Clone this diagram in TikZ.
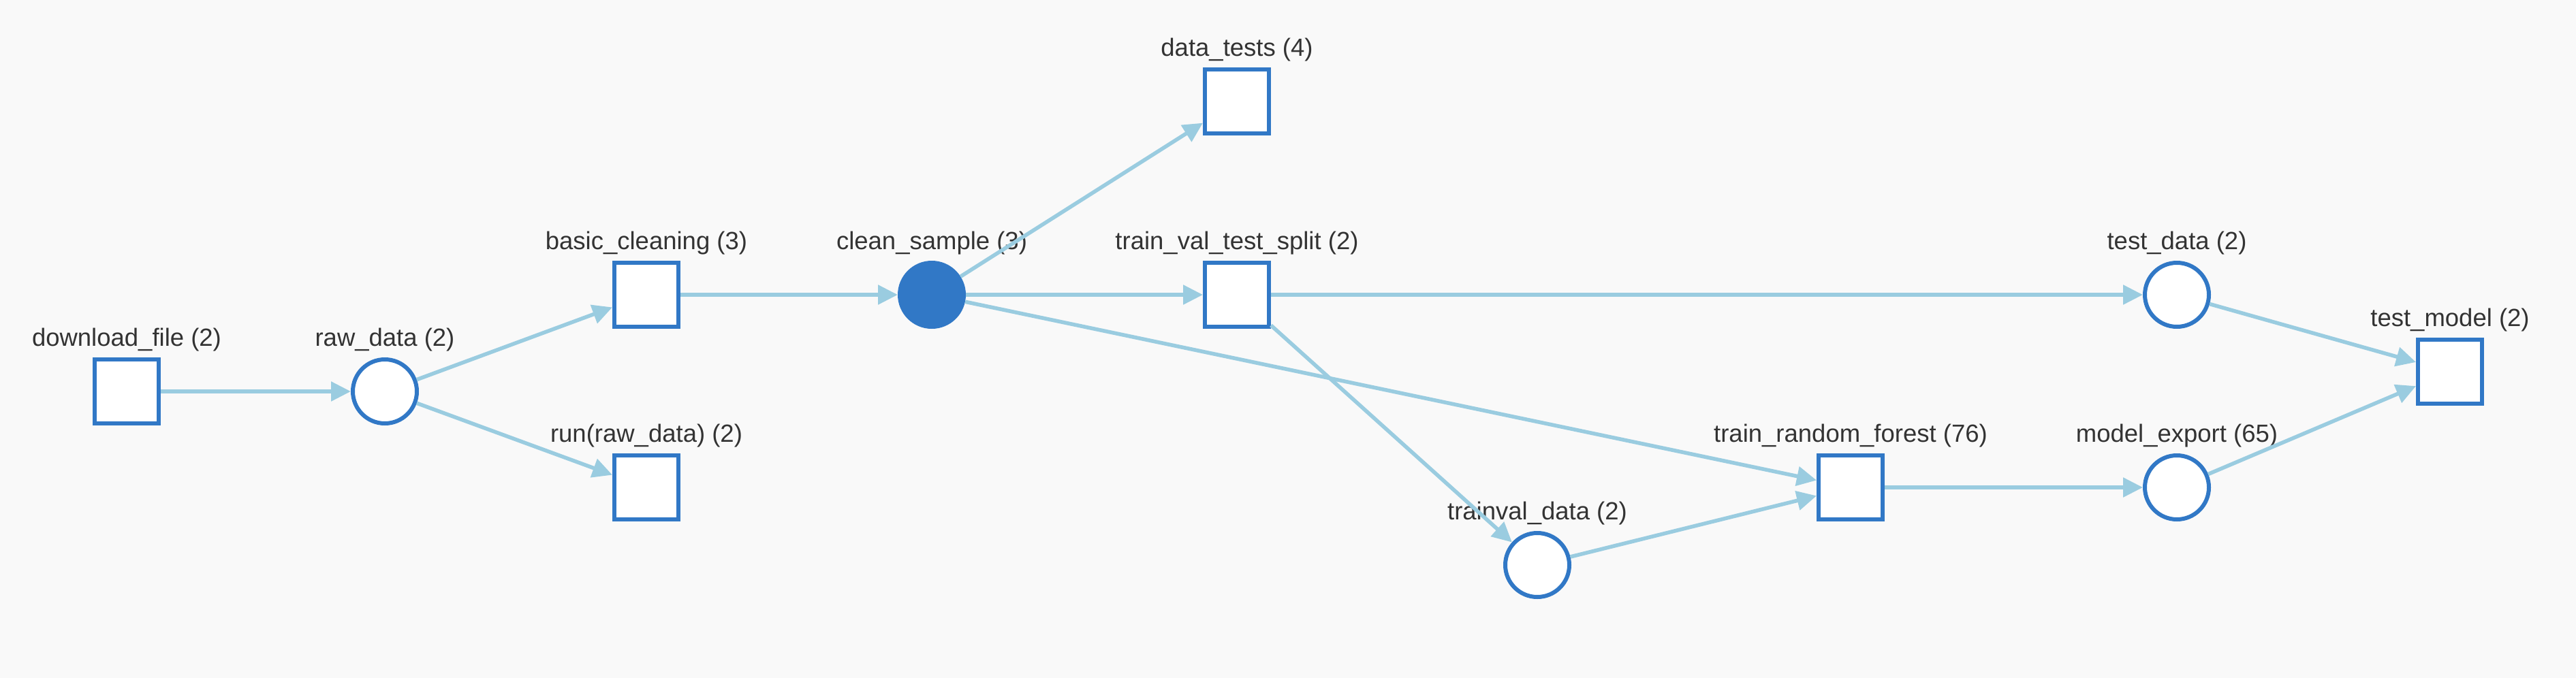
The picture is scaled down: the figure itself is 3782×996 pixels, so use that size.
\documentclass[tikz,border=0pt]{standalone}
\usepackage{fontspec}
\setmainfont{Liberation Sans}
\usetikzlibrary{arrows.meta}
\definecolor{bg}{HTML}{F9F9F9}
\definecolor{nodeblue}{HTML}{3178C6}
\definecolor{edgeblue}{HTML}{9ACCE0}
\definecolor{txt}{HTML}{333333}
\begin{document}
\begin{tikzpicture}[x=0.5pt,y=-0.5pt,
 task/.style={draw=nodeblue, fill=white, line width=3pt, minimum size=47pt, inner sep=0pt, rectangle},
 dataset/.style={draw=nodeblue, fill=white, line width=3pt, minimum size=47pt, inner sep=0pt, circle},
 filleddata/.style={dataset, fill=nodeblue},
 lbl/.style={anchor=base, text=txt, font=\fontsize{18.25pt}{22pt}\selectfont, inner sep=0pt},
 edge/.style={draw=edgeblue, line width=2.8pt, -{Triangle[length=14.5pt,width=14pt]}}]
\fill[bg] (0,0) rectangle (3782,996);
\useasboundingbox (0,0) rectangle (3782,996);
% nodes
\node[task] (df) at (186,575) {};
\node[dataset] (rd) at (565,575) {};
\node[task] (bc) at (949,433) {};
\node[task] (run) at (949,716) {};
\node[filleddata] (cs) at (1368,433) {};
\node[task] (dt) at (1816,149) {};
\node[task] (tvts) at (1816,433) {};
\node[dataset] (tvd) at (2257,830) {};
\node[task] (trf) at (2717,716) {};
\node[dataset] (td) at (3196,433) {};
\node[dataset] (me) at (3196,716) {};
\node[task] (tm) at (3597,546) {};
% labels
\node[lbl] (ldf) at ([yshift=8.5pt]df.north) {download\_file (2)};
\node[lbl] (lrd) at ([yshift=8.5pt]rd.north) {raw\_data (2)};
\node[lbl] (lbc) at ([yshift=8.5pt]bc.north) {basic\_cleaning (3)};
\node[lbl] (lrun) at ([yshift=8.5pt]run.north) {run(raw\_data) (2)};
\node[lbl] (lcs) at ([yshift=8.5pt]cs.north) {clean\_sample (3)};
\node[lbl] (ldt) at ([yshift=8.5pt]dt.north) {data\_tests (4)};
\node[lbl] (ltvts) at ([yshift=8.5pt]tvts.north) {train\_val\_test\_split (2)};
\node[lbl] (ltvd) at ([yshift=8.5pt]tvd.north) {trainval\_data (2)};
\node[lbl] (ltrf) at ([yshift=8.5pt]trf.north) {train\_random\_forest (76)};
\node[lbl] (ltd) at ([yshift=8.5pt]td.north) {test\_data (2)};
\node[lbl] (lme) at ([yshift=8.5pt]me.north) {model\_export (65)};
\node[lbl] (ltm) at ([yshift=8.5pt]tm.north) {test\_model (2)};
% edges
\draw[edge] (df) -- (rd);
\draw[edge] (rd) -- (bc);
\draw[edge] (rd) -- (run);
\draw[edge] (bc) -- (cs);
\draw[edge] (cs) -- (dt);
\draw[edge] (cs) -- (tvts);
\draw[edge] (cs) -- (trf);
\draw[edge] (tvts) -- (td);
\draw[edge] (tvts) -- (tvd);
\draw[edge] (tvd) -- (trf);
\draw[edge] (trf) -- (me);
\draw[edge] (td) -- (tm);
\draw[edge] (me) -- (tm);
\end{tikzpicture}
\end{document}
